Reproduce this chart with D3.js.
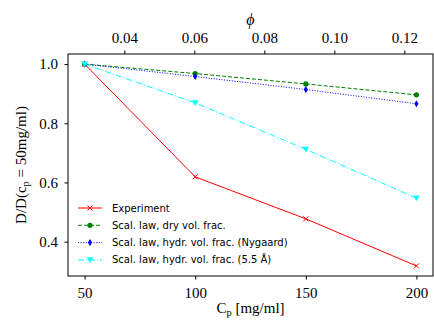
<!DOCTYPE html>
<html><head><meta charset="utf-8">
<script src="https://cdn.jsdelivr.net/npm/d3@7"></script>
<style>body{margin:0;background:#fff}svg{display:block}</style>
</head><body>
<script>
const cp = [50, 100, 150, 200];
const experiment = [1.0, 0.619, 0.477, 0.318];
const dryVol = [1.0, 0.968, 0.933, 0.896];
const hydrNygaard = [1.0, 0.958, 0.914, 0.866];
const hydr55 = [1.0, 0.869, 0.712, 0.547];
const xTicks = [50, 100, 150, 200];
const yTicks = [0.4, 0.6, 0.8, 1.0];
const phiTicks = [0.04, 0.06, 0.08, 0.10, 0.12];
const phiDomain = [0.0239, 0.1282];

const W = 434, H = 326;
const m = {l: 68, r: 433, t: 54, b: 276};
const svg = d3.select("body").append("svg").attr("width", W).attr("height", H);

const x = d3.scaleLinear().domain([42.5, 207.5]).range([m.l, m.r]);
const ymin = d3.min(experiment), ymax = 1.0, pad = (ymax - ymin) * 0.05;
const y = d3.scaleLinear().domain([ymin - pad, ymax + pad]).range([m.b, m.t]);
const xp = d3.scaleLinear().domain(phiDomain).range([m.l, m.r]);

const serif = "'Liberation Serif', 'DejaVu Serif', serif";
const fmt1 = d3.format(".1f"), fmt2 = d3.format(".2f");

function styleAxis(g) {
  g.attr("font-family", null).attr("font-size", null);
  g.selectAll("path").remove();
  g.selectAll("line").attr("stroke", "#000").attr("stroke-width", 1);
  g.selectAll("text").style("font-family", serif).style("font-size", "15px").attr("fill", "#000");
}
svg.append("g").attr("transform", `translate(0,${m.b})`)
  .call(d3.axisBottom(x).tickValues(xTicks).tickSize(3.5).tickPadding(8)).call(styleAxis);
svg.append("g").attr("transform", `translate(${m.l},0)`)
  .call(d3.axisLeft(y).tickValues(yTicks).tickFormat(fmt1).tickSize(3.5).tickPadding(6.5)).call(styleAxis);
svg.append("g").attr("transform", `translate(0,${m.t})`)
  .call(d3.axisTop(xp).tickValues(phiTicks).tickFormat(fmt2).tickSize(3.5).tickPadding(8)).call(styleAxis);

svg.append("rect").attr("x", m.l).attr("y", m.t).attr("width", m.r - m.l).attr("height", m.b - m.t)
  .attr("fill", "none").attr("stroke", "#000").attr("stroke-width", 1);

const series = [
  {name: "Experiment", vals: experiment, color: "#ff0000", dash: null, marker: "x"},
  {name: "Scal. law, dry vol. frac.", vals: dryVol, color: "#008000", dash: "4,2", marker: "o"},
  {name: "Scal. law, hydr. vol. frac. (Nygaard)", vals: hydrNygaard, color: "#0000ff", dash: "1,1.6", marker: "d"},
  {name: "Scal. law, hydr. vol. frac. (5.5 Å)", vals: hydr55, color: "#00ffff", dash: "6,2,1,2", marker: "v"}
];

function drawMarker(g, type, cx, cy, color) {
  if (type === "x") {
    g.append("path").attr("d", `M${cx-2.5},${cy-2.5}L${cx+2.5},${cy+2.5}M${cx-2.5},${cy+2.5}L${cx+2.5},${cy-2.5}`)
      .attr("stroke", color).attr("stroke-width", 1).attr("fill", "none");
  } else if (type === "o") {
    g.append("circle").attr("cx", cx).attr("cy", cy).attr("r", 2.6).attr("fill", color);
  } else if (type === "d") {
    g.append("path").attr("d", `M${cx},${cy-3.6}L${cx+2.1},${cy}L${cx},${cy+3.6}L${cx-2.1},${cy}Z`).attr("fill", color);
  } else if (type === "v") {
    g.append("path").attr("d", `M${cx-3.2},${cy-2.6}L${cx+3.2},${cy-2.6}L${cx},${cy+3.2}Z`).attr("fill", color);
  }
}

const line = d3.line().x(d => x(d[0])).y(d => y(d[1]));
series.forEach(s => {
  const pts = cp.map((c, i) => [c, s.vals[i]]);
  const g = svg.append("g");
  g.append("path").datum(pts).attr("d", line).attr("fill", "none")
    .attr("stroke", s.color).attr("stroke-width", 1).attr("stroke-dasharray", s.dash);
  pts.forEach(p => drawMarker(g, s.marker, x(p[0]), y(p[1]), s.color));
});

// legend
const lg = svg.append("g");
series.forEach((s, i) => {
  const ly = 208 + i * 17.3;
  lg.append("line").attr("x1", 78).attr("x2", 102).attr("y1", ly).attr("y2", ly)
    .attr("stroke", s.color).attr("stroke-width", 1).attr("stroke-dasharray", s.dash);
  drawMarker(lg, s.marker, 90, ly, s.color);
  lg.append("text").attr("x", 112).attr("y", ly).attr("dy", "0.35em")
    .style("font-family", "'DejaVu Sans', sans-serif").style("font-size", "10px").attr("fill", "#000").text(s.name);
});

// axis labels
const xl = svg.append("text").attr("x", (m.l + m.r) / 2).attr("y", 313).attr("text-anchor", "middle")
  .style("font-family", serif).style("font-size", "15px");
xl.append("tspan").text("C");
xl.append("tspan").style("font-size", "10.5px").attr("dy", 3).text("p");
xl.append("tspan").attr("dy", -3).text(" [mg/ml]");

svg.append("text").attr("x", (m.l + m.r) / 2).attr("y", 25).attr("text-anchor", "middle")
  .style("font-family", serif).style("font-style", "italic").style("font-size", "16px").text("ϕ");

const yl = svg.append("text").attr("transform", `translate(26,${(m.t + m.b) / 2}) rotate(-90)`)
  .attr("text-anchor", "middle").style("font-family", serif).style("font-size", "15px");
yl.append("tspan").text("D/D(c");
yl.append("tspan").style("font-size", "10.5px").attr("dy", 3).text("p");
yl.append("tspan").attr("dy", -3).text(" = 50mg/ml)");
</script>
</body></html>
